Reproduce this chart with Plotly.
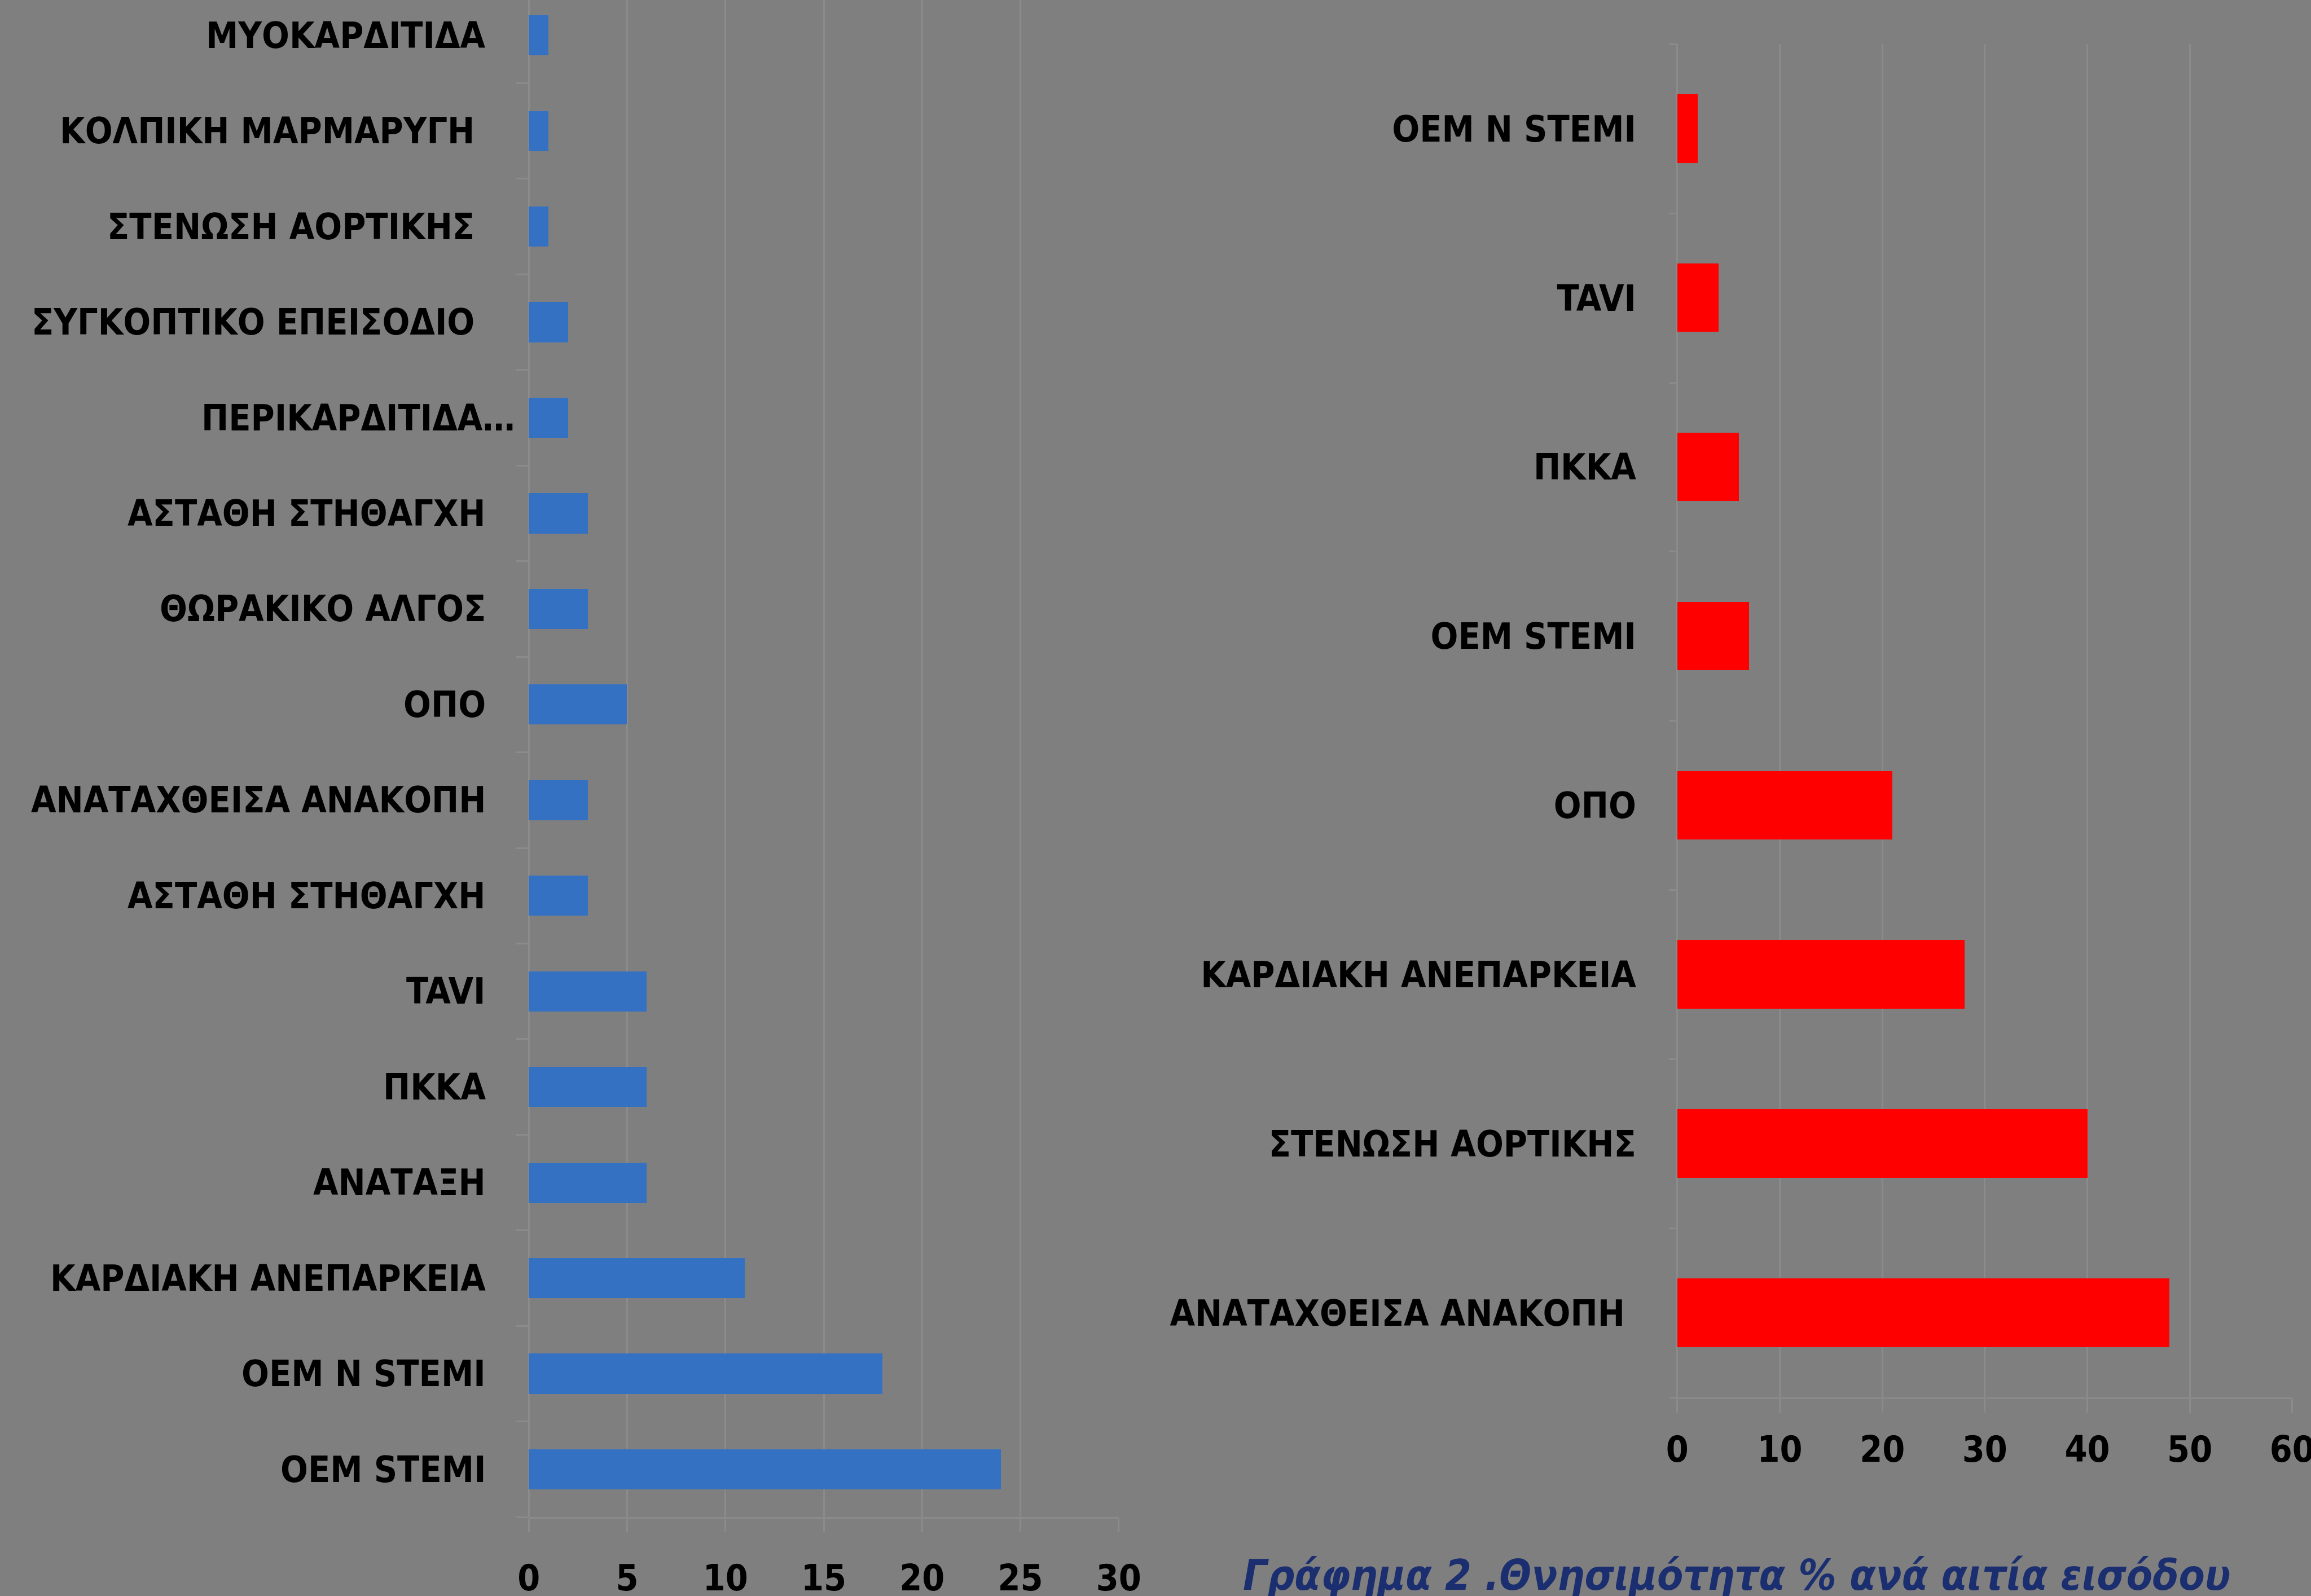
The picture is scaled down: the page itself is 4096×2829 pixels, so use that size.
import plotly.graph_objects as go

# Left chart: admissions by cause (bottom to top)
left_labels = [
    "ΟΕΜ STEMI", "ΟΕΜ Ν STEMI", "ΚΑΡΔΙΑΚΗ ΑΝΕΠΑΡΚΕΙΑ", "ΑΝΑΤΑΞΗ", "ΠΚΚΑ", "TAVI",
    "ΑΣΤΑΘΗ ΣΤΗΘΑΓΧΗ", "ΑΝΑΤΑΧΘΕΙΣΑ ΑΝΑΚΟΠΗ", "ΟΠΟ", "ΘΩΡΑΚΙΚΟ ΑΛΓΟΣ",
    "ΑΣΤΑΘΗ ΣΤΗΘΑΓΧΗ", "ΠΕΡΙΚΑΡΔΙΤΙΔΑ…", "ΣΥΓΚΟΠΤΙΚΟ ΕΠΕΙΣΟΔΙΟ\u00a0",
    "ΣΤΕΝΩΣΗ ΑΟΡΤΙΚΗΣ\u00a0", "ΚΟΛΠΙΚΗ ΜΑΡΜΑΡΥΓΗ\u00a0", "ΜΥΟΚΑΡΔΙΤΙΔΑ",
]
left_values = [24, 18, 11, 6, 6, 6, 3, 3, 5, 3, 3, 2, 2, 1, 1, 1]
left_ticks = [0, 5, 10, 15, 20, 25, 30]

# Right chart: mortality % by cause of admission (bottom to top)
right_labels = [
    "ΑΝΑΤΑΧΘΕΙΣΑ ΑΝΑΚΟΠΗ\u00a0", "ΣΤΕΝΩΣΗ ΑΟΡΤΙΚΗΣ", "ΚΑΡΔΙΑΚΗ ΑΝΕΠΑΡΚΕΙΑ",
    "ΟΠΟ", "ΟΕΜ STEMI", "ΠΚΚΑ", "TAVI", "ΟΕΜ Ν STEMI",
]
right_values = [48, 40, 28, 21, 7, 6, 4, 2]
right_ticks = [0, 10, 20, 30, 40, 50, 60]

title_text = "Γράφημα 2 .Θνησιμότητα % ανά αιτία εισόδου"

BG = "#7f7f7f"
GRID = "#8b8b8b"
FONT = "DejaVu Sans Condensed, Liberation Sans Narrow, sans-serif"
FS = 64

left_pos = list(range(len(left_labels)))
right_pos = list(range(len(right_labels)))

fig = go.Figure()

fig.add_trace(go.Bar(
    x=left_values, y=left_pos, orientation="h", width=0.42,
    marker=dict(color="#3571c2", line=dict(width=0)),
    xaxis="x", yaxis="y", showlegend=False,
))
fig.add_trace(go.Bar(
    x=right_values, y=right_pos, orientation="h", width=0.405,
    marker=dict(color="#ff0000", line=dict(width=0)),
    xaxis="x2", yaxis="y2", showlegend=False,
))

tickfont = dict(family=FONT, size=FS, color="black", weight="bold")

xaxis_common = dict(
    showgrid=True, gridcolor=GRID, gridwidth=3,
    zeroline=True, zerolinecolor=GRID, zerolinewidth=3,
    showline=True, linecolor=GRID, linewidth=3,
    ticks="outside", ticklen=24, tickwidth=3, tickcolor=GRID,
    tickfont=tickfont, tickmode="array", automargin=False,
    ticklabeloverflow="allow",
)

fig.update_layout(
    width=4096, height=2829,
    margin=dict(l=0, r=0, t=0, b=0, autoexpand=False),
    paper_bgcolor=BG, plot_bgcolor=BG,
    bargap=0,
    xaxis=dict(
        xaxis_common, domain=[0.2288, 0.4841], range=[0, 30],
        tickvals=left_ticks, ticktext=[str(v) for v in left_ticks],
        anchor="y", ticklabelstandoff=26,
    ),
    yaxis=dict(
        domain=[0.0494, 1.0], range=[-0.5, 15.37],
        showgrid=False, zeroline=False, showline=False,
        showticklabels=False, ticks="", automargin=False,
        minor=dict(tickvals=[p - 0.5 for p in range(len(left_labels) + 1)],
                   ticks="outside", ticklen=22, tickwidth=3, tickcolor=GRID,
                   showgrid=False),
        anchor="x",
    ),
    xaxis2=dict(
        xaxis_common, domain=[0.7258, 0.9919], range=[0, 60],
        tickvals=right_ticks, ticktext=[str(v) for v in right_ticks],
        anchor="y2", ticklabelstandoff=10,
    ),
    yaxis2=dict(
        domain=[0.1244, 0.9723], range=[-0.5, 7.5],
        showgrid=False, zeroline=False, showline=False,
        tickmode="array", tickvals=right_pos, ticktext=right_labels,
        ticks="", tickfont=tickfont, ticklabelstandoff=72, automargin=False,
        minor=dict(tickvals=[p - 0.5 for p in range(len(right_labels) + 1)],
                   ticks="outside", ticklen=14, tickwidth=3, tickcolor=GRID,
                   showgrid=False),
        anchor="x2",
    ),
)

# Category labels of the left chart, right-aligned against the value axis
for pos, label in zip(left_pos, left_labels):
    shift = -22 if label.endswith("…") else -74
    fig.add_annotation(
        x=0, y=pos, xref="x", yref="y", text=label, showarrow=False,
        xanchor="right", yanchor="middle", xshift=shift,
        font=dict(family=FONT, size=FS, color="black", weight="bold"),
    )

fig.add_annotation(
    x=3078 / 4096, y=0.0131, xref="paper", yref="paper",
    text=title_text, showarrow=False, xanchor="center", yanchor="middle",
    font=dict(family=FONT, size=75, color="#1b2f70", weight="bold", style="italic"),
)

fig.write_html("out.html")
